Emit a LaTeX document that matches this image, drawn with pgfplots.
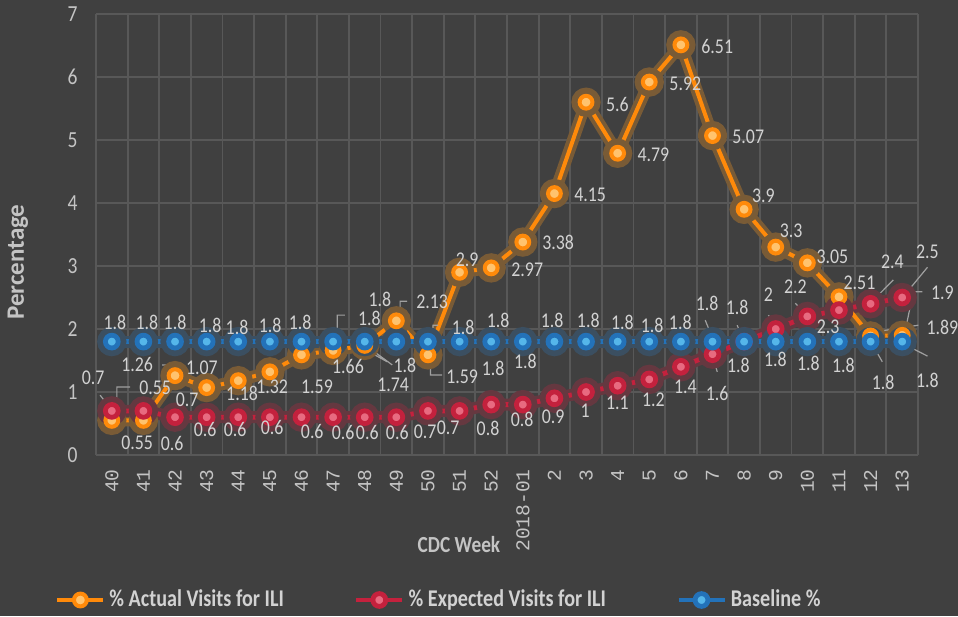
\documentclass[border=0pt]{standalone}
\usepackage{pgfplots}
\pgfplotsset{compat=1.18}
\usepackage{pgfplotstable}
\usepackage{graphicx}
\usepackage{fontspec}
\setmainfont{Carlito}[FakeStretch=0.85]
\newfontfamily\legfont{Carlito}[FakeStretch=0.84]
\newfontfamily\titlefont{Carlito}
\newfontfamily\tickmono{Liberation Mono}

\definecolor{bg}{HTML}{404040}
\definecolor{gridc}{HTML}{585858}
\definecolor{tickc}{HTML}{C4C4C4}
\definecolor{lblc}{HTML}{D2D2D2}
\definecolor{leadc}{HTML}{A0A0A0}
\definecolor{orgline}{HTML}{FF8A0A}
\definecolor{orgmark}{HTML}{FFC36E}
\definecolor{orgglow}{HTML}{FF9A20}
\definecolor{redline}{HTML}{C4213D}
\definecolor{redmark}{HTML}{E86A80}
\definecolor{redglow}{HTML}{D0203F}
\definecolor{bluline}{HTML}{2372B9}
\definecolor{blumark}{HTML}{55B6EA}
\definecolor{bluglow}{HTML}{2A7FC8}
\colorlet{orgglowc}{orgglow!30!bg}
\colorlet{redglowc}{redglow!26!bg}
\colorlet{bluglowc}{bluglow!24!bg}

% x = week index, y = value, lx/ly = where the data label sits
\pgfplotstableread{
x y lx ly lab
0 0.55 0.80 0.19 0.55
1 0.55 1.37 1.06 0.55
2 1.26 0.80 1.43 1.26
3 1.07 2.85 1.38 1.07
4 1.18 4.12 0.98 1.18
5 1.32 5.07 1.08 1.32
6 1.59 6.49 1.08 1.59
7 1.66 7.47 1.40 1.66
8 1.74 8.90 1.11 1.74
9 2.13 10.13 2.43 2.13
10 1.59 11.08 1.24 1.59
11 2.9 11.24 3.10 2.9
12 2.97 13.14 2.94 2.97
13 3.38 14.12 3.37 3.38
14 4.15 15.13 4.13 4.15
15 5.6 15.99 5.57 5.6
16 4.79 17.13 4.76 4.79
17 5.92 18.14 5.90 5.92
18 6.51 19.15 6.49 6.51
19 5.07 20.13 5.05 5.07
20 3.9 20.61 4.11 3.9
21 3.3 21.49 3.56 3.3
22 3.05 22.79 3.14 3.05
23 2.51 23.65 2.73 2.51
24 1.89 26.27 2.03 1.89
25 1.9 26.27 2.57 1.9
}\actual

\pgfplotstableread{
x y lx ly lab
0 0.7 -0.59 1.22 0.7
1 0.7 2.38 0.87 0.7
2 0.6 1.91 0.19 0.6
3 0.6 2.95 0.40 0.6
4 0.6 3.90 0.40 0.6
5 0.6 5.07 0.43 0.6
6 0.6 6.34 0.37 0.6
7 0.6 7.32 0.35 0.6
8 0.6 8.08 0.35 0.6
9 0.6 9.03 0.35 0.6
10 0.7 9.91 0.37 0.7
11 0.7 10.64 0.44 0.7
12 0.8 11.90 0.43 0.8
13 0.8 12.98 0.56 0.8
14 0.9 13.96 0.60 0.9
15 1 14.97 0.71 1
16 1.1 15.99 0.83 1.1
17 1.2 17.13 0.87 1.2
18 1.4 18.14 1.08 1.4
19 1.6 19.15 0.98 1.6
20 1.8 19.82 1.43 1.8
21 2 20.77 2.54 2
22 2.2 21.62 2.67 2.2
23 2.3 22.66 2.03 2.3
24 2.4 24.69 3.06 2.4
25 2.5 25.80 3.22 2.5
}\expected

\pgfplotstableread{
x y lx ly lab
0 1.8 0.10 2.10 1.8
1 1.8 1.11 2.10 1.8
2 1.8 2.00 2.10 1.8
3 1.8 3.11 2.06 1.8
4 1.8 3.96 2.03 1.8
5 1.8 5.01 2.06 1.8
6 1.8 5.96 2.10 1.8
7 1.8 8.15 2.17 1.8
8 1.8 9.27 1.43 1.8
9 1.8 8.48 2.47 1.8
10 1.8 11.11 2.03 1.8
11 1.8 12.06 1.38 1.8
12 1.8 12.22 2.14 1.8
13 1.8 13.08 1.48 1.8
14 1.8 13.93 2.14 1.8
15 1.8 15.07 2.14 1.8
16 1.8 16.15 2.10 1.8
17 1.8 17.09 2.06 1.8
18 1.8 17.98 2.10 1.8
19 1.8 18.83 2.41 1.8
20 1.8 19.78 2.35 1.8
21 1.8 20.99 1.51 1.8
22 1.8 22.03 1.46 1.8
23 1.8 23.14 1.43 1.8
24 1.8 24.40 1.16 1.8
25 1.8 25.80 1.19 1.8
}\baseline

\begin{document}
\begin{tikzpicture}
\fill[bg] (-48pt,-80.5pt) rectangle (431pt,227.5pt);
\useasboundingbox (-48pt,-80.5pt) rectangle (431pt,227.5pt);
\begin{axis}[
    scale only axis,
    width=411pt, height=220.5pt,
    at={(0,0)}, anchor=south west,
    xmin=-0.5, xmax=25.5, ymin=0, ymax=7,
    clip=false,
    axis line style={draw=none},
    tick style={draw=none},
    xtick={0,...,25},
    xticklabels={40,41,42,43,44,45,46,47,48,49,50,51,52,2018-01,2,3,4,5,6,7,8,9,10,11,12,13},
    minor xtick={-0.5,0.5,...,25.5},
    xminorgrids,
    minor x grid style={gridc, line width=0.9pt},
    ytick={0,...,7},
    ymajorgrids,
    major y grid style={gridc, line width=0.9pt},
    xticklabel style={rotate=90, anchor=east, inner sep=0pt,
        font=\tickmono\fontsize{9.8}{10}\selectfont, text=tickc},
    xticklabel shift=7pt,
    yticklabel style={anchor=east, inner sep=0pt,
        font=\fontsize{11.5}{12}\selectfont, text=tickc},
    yticklabel shift=9pt,
    /pgf/number format/assume math mode=true,
    xlabel={CDC Week},
    xlabel style={at={(axis description cs:0.4416,-0.204)}, anchor=center,
        font=\legfont\bfseries\fontsize{11.5}{13}\selectfont, text=tickc},
    ylabel={Percentage},
    ylabel style={at={(axis description cs:-0.095,0.4376)}, anchor=center, rotate=0,
        font=\titlefont\bfseries\fontsize{12.5}{14}\selectfont, text=tickc},
    legend columns=3,
    legend style={at={(axis description cs:-0.0499,-0.3288)}, anchor=west,
        draw=none, fill=none, inner sep=0pt,
        text=lblc, font=\legfont\bfseries\fontsize{12}{14}\selectfont,
        /tikz/every even column/.append style={column sep=33pt}},
    legend image code/.code={\draw[mark repeat=2,mark phase=2,#1]
        plot coordinates {(0pt,0pt) (11.5pt,0pt) (23pt,0pt)};},
    every node near coord/.append style={anchor=center, inner sep=0pt,
        font=\fontsize{10.5}{11}\selectfont, text=lblc},
]

% soft glow under each series, drawn first so no glow hides another line
\addplot[forget plot, orgglowc, line width=6pt, mark=*, mark size=4.3pt,
    mark options={draw=none, fill=orgglowc}] table[x=x, y=y] {\actual};
\addplot[forget plot, redglowc, line width=6pt, mark=*, mark size=4.3pt,
    mark options={draw=none, fill=redglowc}] table[x=x, y=y] {\expected};
\addplot[forget plot, bluglowc, line width=6pt, mark=*, mark size=4.3pt,
    mark options={draw=none, fill=bluglowc}] table[x=x, y=y] {\baseline};

% actual visits
\addplot[orgline, line width=2pt, mark=*, mark size=3.2pt,
    mark options={draw=none, fill=orgmark}] table[x=x, y=y] {\actual};
\addlegendentry{\% Actual Visits for ILI}

% expected visits
\addplot[redline, line width=2.4pt, mark=*, mark size=3.2pt,
    mark options={draw=none, fill=redmark}] table[x=x, y=y] {\expected};
\addlegendentry{\% Expected Visits for ILI}

% baseline
\addplot[bluline, line width=2.4pt, mark=*, mark size=3.2pt,
    mark options={draw=none, fill=blumark}] table[x=x, y=y] {\baseline};
\addlegendentry{Baseline \%}

% leader lines
\addplot[forget plot, leadc, line width=0.6pt, mark=none, unbounded coords=jump] coordinates {
    (-0.37,0.95) (-0.06,0.75) (nan,nan)
    (0.58,1.08) (0.16,1.08) (0.16,0.83) (nan,nan)
    (1.59,1.43) (1.84,1.43) (1.84,1.32) (nan,nan)
    (7.37,2.22) (7.13,2.22) (7.13,1.90) (nan,nan)
    (8.11,1.71) (8.87,1.43) (nan,nan)
    (8.17,1.63) (8.71,1.48) (nan,nan)
    (9.34,2.44) (9.12,2.44) (9.12,2.22) (nan,nan)
    (10.08,1.48) (10.08,1.27) (10.45,1.27) (nan,nan)
    (10.32,2.06) (10.16,2.06) (10.16,1.90) (nan,nan)
    (18.77,2.14) (18.99,1.87) (nan,nan)
    (19.78,2.06) (19.94,1.87) (nan,nan)
    (19.02,1.54) (19.15,1.32) (nan,nan)
    (20.77,2.22) (20.99,2.06) (nan,nan)
    (21.62,2.41) (21.87,2.27) (nan,nan)
    (24.15,2.49) (24.72,2.78) (nan,nan)
    (25.16,2.59) (25.80,2.98) (nan,nan)
    (25.64,2.59) (25.35,2.59) (25.10,1.98) (nan,nan)
    (24.09,1.95) (25.51,2.06) (nan,nan)
    (24.06,1.75) (24.37,1.48) (nan,nan)
    (25.10,1.75) (25.80,1.57)
};

% data labels
\addplot[forget plot, draw=none, mark=none, nodes near coords, point meta=explicit symbolic]
    table[x=lx, y=ly, meta=lab] {\actual};
\addplot[forget plot, draw=none, mark=none, nodes near coords, point meta=explicit symbolic]
    table[x=lx, y=ly, meta=lab] {\expected};
\addplot[forget plot, draw=none, mark=none, nodes near coords, point meta=explicit symbolic]
    table[x=lx, y=ly, meta=lab] {\baseline};
\end{axis}
\end{tikzpicture}
\end{document}
